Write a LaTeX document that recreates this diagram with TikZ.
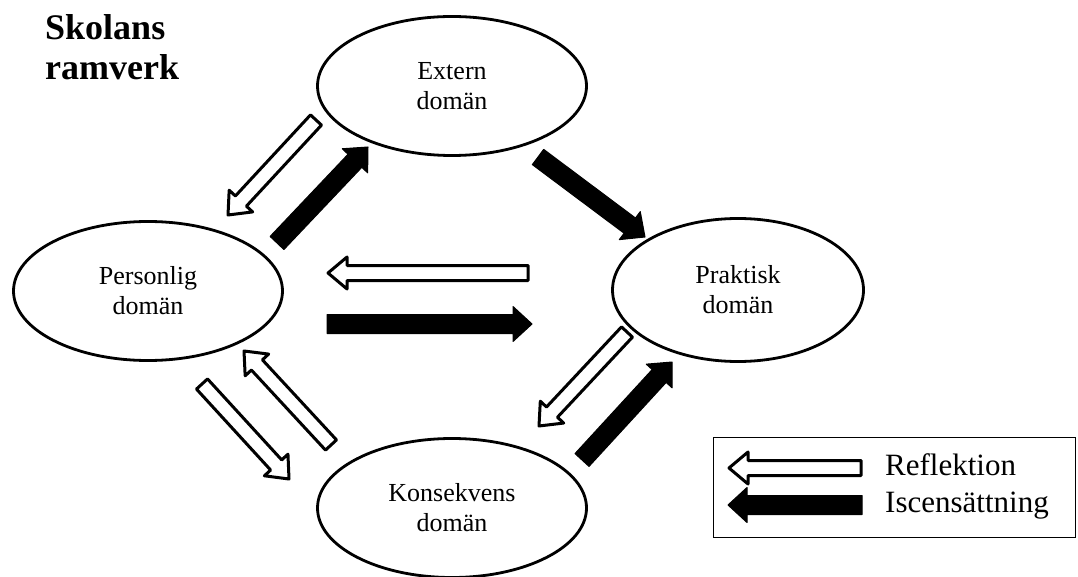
\documentclass[tikz,border=0pt]{standalone}
\usepackage{fontspec}
\setmainfont{Liberation Serif}
\usetikzlibrary{shapes.geometric,calc,positioning}

%% block arrow from #2 to #3, shaft half width #4, head half width #5
\newcommand{\bigarrow}[5]{%
  \coordinate (#2h) at ($(#3)!19pt!(#2)$);
  \draw[#1] ($(#2)!#4!90:(#3)$) -- ($(#2h)!#4!90:(#3)$) -- ($(#2h)!#5!90:(#3)$) -- (#3)
    -- ($(#2h)!#5!-90:(#3)$) -- ($(#2h)!#4!-90:(#3)$) -- ($(#2)!#4!-90:(#3)$) -- cycle;}
\newcommand{\reflarrow}[2]{\bigarrow{refl}{#1}{#2}{7.5pt}{16pt}}
\newcommand{\iscarrow}[2]{\bigarrow{isc}{#1}{#2}{9.5pt}{17.5pt}}

\begin{document}
\begin{tikzpicture}
[x=1pt,y=-1pt,
    dom/.style={draw,shape=ellipse,line width=2.8pt,inner sep=0,minimum width=269pt,
    minimum height=139pt,align=center,font=\fontsize{26}{30}\selectfont},
    refl/.style={draw,fill=white,line width=3pt,line join=round},
    isc/.style={draw,fill=black,line width=1pt,line join=round},
    leg/.style={anchor=base west,inner sep=0,font=\fontsize{31}{37}\selectfont}]
\useasboundingbox (0,0) rectangle (1078,577);
%% title
\node (title) [anchor=north west,align=left,inner sep=0,
  font=\bfseries\fontsize{36}{40}\selectfont] at (45,14) {Skolans\\ramverk};
%% domains
\node (ext) [dom] at (452,86) {Extern\\domän};
\node (pers) [dom] at (148,291) {Personlig\\domän};
\node (prak) [dom,minimum width=251pt,minimum height=143pt] at (738,290) {Praktisk\\domän};
\node (kons) [dom] at (452,508) {Konsekvens\\domän};
%% arrow ends
\coordinate (ep-t) at (316,120); \coordinate (ep-a) at (228,215);
\coordinate (pe-t) at (277,243); \coordinate (pe-a) at (368,147);
\coordinate (epr-t) at (538,157); \coordinate (epr-a) at (645,237);
\coordinate (prp-t) at (528,273); \coordinate (prp-a) at (328,273);
\coordinate (ppr-t) at (327,324); \coordinate (ppr-a) at (532,324);
\coordinate (prk-t) at (627,332); \coordinate (prk-a) at (539,426);
\coordinate (kpr-t) at (582,460); \coordinate (kpr-a) at (672,362);
\coordinate (pk-t) at (202,384); \coordinate (pk-a) at (289,479);
\coordinate (kp-t) at (331,445); \coordinate (kp-a) at (244,351);
%% arrows
\reflarrow{ep-t}{ep-a}
\iscarrow{pe-t}{pe-a}
\iscarrow{epr-t}{epr-a}
\reflarrow{prp-t}{prp-a}
\iscarrow{ppr-t}{ppr-a}
\reflarrow{prk-t}{prk-a}
\iscarrow{kpr-t}{kpr-a}
\reflarrow{pk-t}{pk-a}
\reflarrow{kp-t}{kp-a}
%% legend
\node (legend) [draw,line width=1.2pt,inner sep=0,minimum width=362pt,
  minimum height=100pt] at (894.5,487.5) {};
\coordinate (lr-t) at (861,468); \coordinate (lr-a) at (729,468);
\coordinate (li-t) at (862,505); \coordinate (li-a) at (728,505);
\reflarrow{lr-t}{lr-a}
\iscarrow{li-t}{li-a}
\node (reftext) [leg] at (885,475) {Reflektion};
\node (isctext) [leg] at (885,512) {Iscensättning};
\end{tikzpicture}
\end{document}
